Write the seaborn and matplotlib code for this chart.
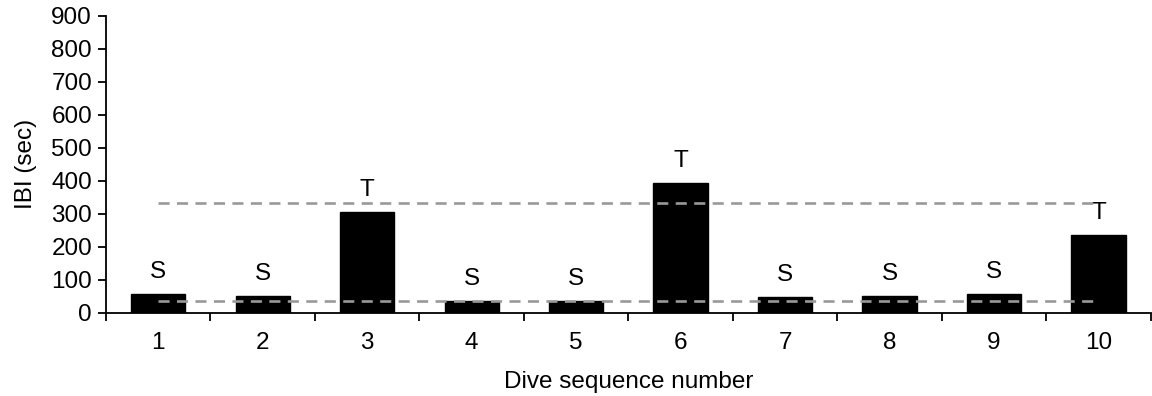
import matplotlib
matplotlib.use("Agg")
import matplotlib.pyplot as plt
import seaborn as sns
import pandas as pd
from matplotlib.ticker import FixedLocator

# Inter-breath intervals for each dive in the sequence
dives = ["1", "2", "3", "4", "5", "6", "7", "8", "9", "10"]
ibi_sec = [57, 51, 305, 36, 37, 393, 48, 51, 56, 235]
dive_type = ["S", "S", "T", "S", "S", "T", "S", "S", "S", "T"]

# Reference thresholds drawn as dashed lines
thresholds = [333, 37]

y_ticks = [0, 100, 200, 300, 400, 500, 600, 700, 800, 900]

sns.set_theme(style="white")
plt.rcParams["font.family"] = ["Liberation Sans", "DejaVu Sans"]
plt.rcParams.update({
    "text.color": "black",
    "axes.labelcolor": "black",
    "xtick.color": "black",
    "ytick.color": "black",
})

FS = 17.5

df = pd.DataFrame({"dive": dives, "ibi": ibi_sec, "type": dive_type})

fig = plt.figure(figsize=(11.52, 3.96), dpi=100)
ax = fig.add_axes([0.092, 0.21, 0.907, 0.75])

sns.barplot(data=df, x="dive", y="ibi", color="black", width=0.52,
            saturation=1, ax=ax, zorder=2)

for patch in ax.patches:
    patch.set_edgecolor("black")

# Dive type labels above each bar
for i, (val, lab) in enumerate(zip(ibi_sec, dive_type)):
    ax.annotate(lab, xy=(i, val), xytext=(0, 8), textcoords="offset points",
                ha="center", va="bottom", fontsize=FS, color="black")

# Dashed threshold lines, drawn over the bars
for t in thresholds:
    ax.plot([0, len(dives) - 1], [t, t], color="#999999", lw=1.9,
            ls=(0, (4.2, 2.8)), zorder=3)

ax.set_xlim(-0.5, len(dives) - 0.5)
ax.set_ylim(0, 900)
ax.set_yticks(y_ticks)
ax.set_yticklabels([str(v) for v in y_ticks], fontsize=FS)
ax.set_xticks(range(len(dives)))
ax.set_xticklabels(dives, fontsize=FS)

# Tick marks sit on category boundaries, labels at bar centres
ax.xaxis.set_minor_locator(FixedLocator([i - 0.5 for i in range(len(dives) + 1)]))
ax.tick_params(axis="x", which="major", length=0, pad=14)
ax.tick_params(axis="x", which="minor", bottom=True, length=6, width=1.3,
               direction="out", color="black")
ax.tick_params(axis="y", which="major", left=True, length=6, width=1.3,
               direction="out", color="black", pad=4)

ax.set_xlabel("Dive sequence number", fontsize=FS, labelpad=12)
ax.set_ylabel("IBI (sec)", fontsize=FS, labelpad=10)

for side in ["top", "right"]:
    ax.spines[side].set_visible(False)
for side in ["left", "bottom"]:
    ax.spines[side].set_color("black")
    ax.spines[side].set_linewidth(1.3)

ax.grid(False)
fig.savefig("out.png", dpi=100)
